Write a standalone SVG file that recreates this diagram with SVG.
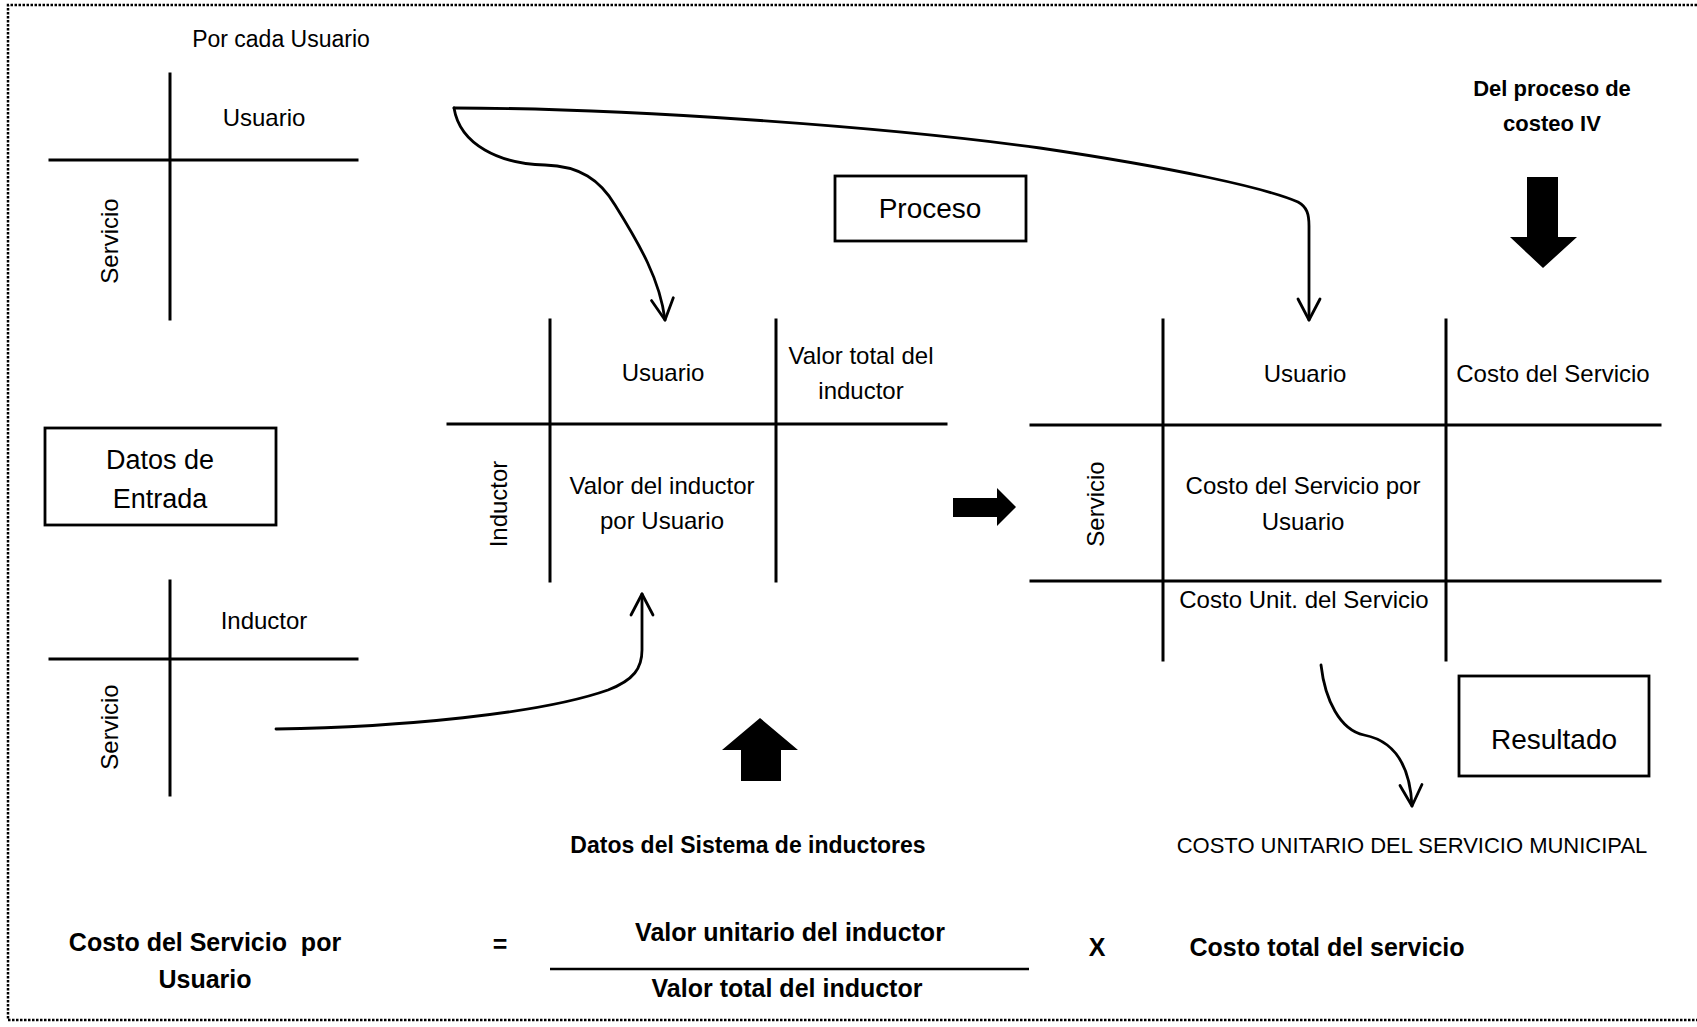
<svg xmlns="http://www.w3.org/2000/svg" width="1697" height="1027" viewBox="0 0 1697 1027">
  <style>
    text { font-family: "Liberation Sans", Arial, sans-serif; fill: #000; }
    .t { font-size: 24px; }
    .tc { font-size: 24px; text-anchor: middle; }
    .b { font-size: 22px; font-weight: bold; text-anchor: middle; }
    .f { font-size: 25px; font-weight: bold; text-anchor: middle; }
    .box-label { font-size: 28px; text-anchor: middle; }
    .grid { stroke: #000; stroke-width: 3; fill: none; stroke-linecap: square; }
    .box { stroke: #000; stroke-width: 2.8; fill: #fff; }
    .link { stroke: #000; stroke-width: 2.8; fill: none; stroke-linecap: round; }
    .block { fill: #000; }
    .frame { stroke: #000; stroke-width: 2.5; fill: none; stroke-dasharray: 2.5 1.5; }
  </style>
  <defs>
    <marker id="open-arrow" markerUnits="userSpaceOnUse" markerWidth="26" markerHeight="26" refX="0" refY="0" viewBox="-24 -13 26 26" orient="auto" overflow="visible">
      <path d="M-21,-11 L0,0 L-21,11" fill="none" stroke="#000" stroke-width="2.8" stroke-linecap="round" stroke-linejoin="round"/>
    </marker>
  </defs>

  <rect width="1697" height="1027" fill="#fff"/>

  <!-- dotted page frame (open on the right) -->
  <path class="frame" d="M1697,5 H8 V1020 H1697"/>

  <!-- input table: Usuario x Servicio -->
  <g id="input-usuario">
    <text class="tc" x="281" y="47" style="font-size:23px">Por cada Usuario</text>
    <line class="grid" x1="170" y1="74" x2="170" y2="319"/>
    <line class="grid" x1="50" y1="160" x2="357" y2="160"/>
    <text class="tc" x="264" y="126">Usuario</text>
    <text class="tc" transform="translate(118,241) rotate(-90)">Servicio</text>
  </g>

  <!-- input table: Inductor x Servicio -->
  <g id="input-inductor">
    <line class="grid" x1="170" y1="581" x2="170" y2="795"/>
    <line class="grid" x1="50" y1="659" x2="357" y2="659"/>
    <text class="tc" x="264" y="629">Inductor</text>
    <text class="tc" transform="translate(118,727) rotate(-90)">Servicio</text>
  </g>

  <!-- section box: Datos de Entrada -->
  <g id="datos-entrada">
    <rect class="box" x="45" y="428" width="231" height="97"/>
    <text class="box-label" x="160" y="469" style="font-size:27px">Datos de</text>
    <text class="box-label" x="160" y="508" style="font-size:27px">Entrada</text>
  </g>

  <!-- section box: Proceso -->
  <g id="proceso">
    <rect class="box" x="835" y="176" width="191" height="65"/>
    <text class="box-label" x="930" y="218">Proceso</text>
  </g>

  <!-- process table: Inductor x Usuario -->
  <g id="tabla-inductor">
    <line class="grid" x1="550" y1="320" x2="550" y2="581"/>
    <line class="grid" x1="776" y1="320" x2="776" y2="581"/>
    <line class="grid" x1="448" y1="424" x2="946" y2="424"/>
    <text class="tc" x="663" y="381">Usuario</text>
    <text class="tc" x="861" y="364">Valor total del</text>
    <text class="tc" x="861" y="399">inductor</text>
    <text class="tc" transform="translate(507,504) rotate(-90)">Inductor</text>
    <text class="tc" x="662" y="494">Valor del inductor</text>
    <text class="tc" x="662" y="529">por Usuario</text>
  </g>

  <!-- process table: Servicio x Usuario -->
  <g id="tabla-servicio">
    <line class="grid" x1="1163" y1="320" x2="1163" y2="660"/>
    <line class="grid" x1="1446" y1="320" x2="1446" y2="660"/>
    <line class="grid" x1="1031" y1="425" x2="1660" y2="425"/>
    <line class="grid" x1="1031" y1="581" x2="1660" y2="581"/>
    <text class="tc" x="1305" y="382">Usuario</text>
    <text class="tc" x="1553" y="382">Costo del Servicio</text>
    <text class="tc" transform="translate(1104,504) rotate(-90)">Servicio</text>
    <text class="tc" x="1303" y="494">Costo del Servicio por</text>
    <text class="tc" x="1303" y="530">Usuario</text>
    <text class="tc" x="1304" y="608">Costo Unit. del Servicio</text>
  </g>

  <!-- section box: Resultado -->
  <g id="resultado">
    <rect class="box" x="1459" y="676" width="190" height="100"/>
    <text class="box-label" x="1554" y="749">Resultado</text>
  </g>

  <!-- external sources and output -->
  <g id="costeo-iv">
    <text class="b" x="1552" y="96">Del proceso de</text>
    <text class="b" x="1552" y="131">costeo IV</text>
  </g>
  <g id="sistema-inductores">
    <text class="b" x="748" y="853" style="font-size:23px">Datos del Sistema de inductores</text>
  </g>
  <g id="costo-unitario">
    <text class="tc" x="1412" y="853" style="font-size:22px">COSTO UNITARIO DEL SERVICIO MUNICIPAL</text>
  </g>

  <!-- connectors -->
  <g id="connectors">
    <path class="link" d="M454,108 C620,108 880,126 1040,148 C1175,168 1266,188 1298,202 C1307,207 1309,214 1309,226 L1309,320" marker-end="url(#open-arrow)"/>
    <path class="link" d="M454,108 C460,145 500,164 545,165 C580,166 600,180 615,205 C640,245 660,280 665,320" marker-end="url(#open-arrow)"/>
    <path class="link" d="M276,729 C400,727 540,714 608,690 C634,680 642,668 642,650 L642,594" marker-end="url(#open-arrow)"/>
    <path class="link" d="M1321,665 C1325,700 1340,730 1364,735 C1395,741 1410,765 1412,806" marker-end="url(#open-arrow)"/>
    <polygon class="block" points="953,498 997,498 997,488 1016,507 997,526 997,517 953,517"/>
    <polygon class="block" points="741,781 741,750 722,750 760,718 798,750 781,750 781,781"/>
    <polygon class="block" points="1527,177 1558,177 1558,237 1577,237 1543,268 1510,237 1527,237"/>
  </g>

  <!-- formula -->
  <g id="formula">
    <text class="f" x="205" y="951" style="white-space:pre">Costo del Servicio  por</text>
    <text class="f" x="205" y="988">Usuario</text>
    <text class="f" x="500" y="953">=</text>
    <text class="f" x="790" y="941">Valor unitario del inductor</text>
    <line x1="550" y1="969" x2="1029" y2="969" stroke="#000" stroke-width="2.5"/>
    <text class="f" x="787" y="997">Valor total del inductor</text>
    <text class="f" x="1097" y="956">X</text>
    <text class="f" x="1327" y="956">Costo total del servicio</text>
  </g>
</svg>
